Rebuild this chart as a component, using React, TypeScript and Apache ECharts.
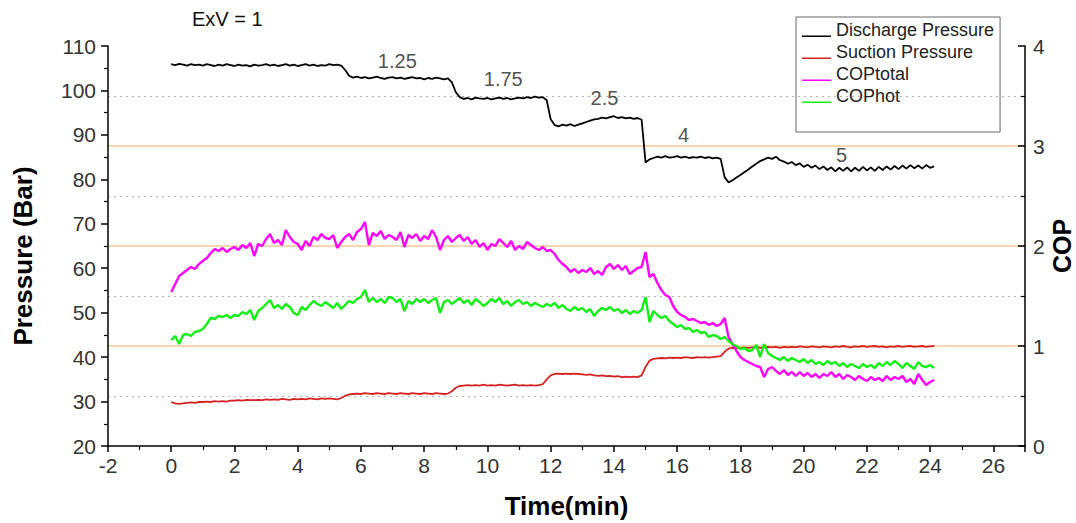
import React, { useEffect, useRef } from "react";
import * as echarts from "echarts";

const FONT = "'Liberation Sans', Arial, Helvetica, sans-serif";

// sampling step of the recorded time series (minutes)
const STEP = 0.125;

const seriesNames = ["Discharge Pressure", "Suction Pressure", "COPtotal", "COPhot"];
const seriesColors = ["#000000", "#d42222", "#ff00ff", "#11ee11"];

// Discharge pressure (bar), one row per minute
const discharge = [
  105.9, 105.7, 106.0, 105.8, 105.6, 105.9, 105.7, 105.8,
  105.6, 105.9, 105.7, 105.5, 105.8, 105.6, 105.9, 105.7,
  105.5, 105.8, 105.6, 105.7, 105.4, 105.8, 105.6, 105.7,
  105.9, 105.6, 105.8, 105.5, 105.7, 105.9, 105.6, 105.8,
  105.5, 105.7, 105.9, 105.6, 105.8, 105.5, 105.7, 105.6,
  105.9, 105.7, 105.8, 105.6, 104.6, 103.3, 102.9, 103.1,
  102.8, 103.0, 102.7, 102.9, 103.1, 102.8, 102.6, 102.9,
  103.0, 102.7, 102.9, 102.6, 102.8, 103.0, 102.7, 102.8,
  102.5, 102.8, 102.6, 102.9, 102.7, 102.5, 102.7, 101.8,
  99.6, 98.5, 98.1, 98.3, 98.0, 98.4, 98.2, 98.1,
  98.3, 98.0, 98.2, 98.4, 98.1, 98.3, 98.0, 98.2,
  98.4, 98.2, 98.5, 98.3, 98.6, 98.4, 98.5, 97.8,
  93.5, 92.2, 91.9, 92.3, 92.1, 92.4, 92.0, 92.3,
  92.6, 92.9, 93.2, 93.5, 93.6, 93.9, 93.7, 94.0,
  94.2, 93.8, 94.0, 93.7, 93.9, 93.6, 93.8, 93.4,
  83.8, 84.5, 84.8, 85.1, 84.9, 85.2, 84.9, 85.0,
  85.2, 84.9, 85.1, 84.8, 85.0, 84.9, 85.1, 84.8,
  85.0, 84.7, 84.9, 84.6, 80.5, 79.3, 79.8, 80.4,
  81.0, 81.6, 82.2, 82.9, 83.5, 84.1, 84.5, 84.9,
  84.6, 85.1, 84.3, 84.0, 83.5, 83.9, 83.2, 83.6,
  82.8, 83.3, 82.6, 83.1, 82.3, 82.9, 82.1, 82.7,
  81.8, 82.6, 81.9, 82.7, 81.8, 82.6, 81.9, 82.8,
  82.0, 82.7, 81.9, 82.8, 82.1, 82.9, 82.2, 83.0,
  82.3, 83.1, 82.4, 83.2, 82.5, 83.1, 82.4, 83.2,
  82.6, 82.9,
];

// Suction pressure (bar)
const suction = [
  29.9, 29.6, 29.5, 29.6, 29.7, 29.8, 29.7, 29.9,
  29.9, 30.0, 29.9, 30.1, 30.0, 30.1, 30.0, 30.2,
  30.2, 30.3, 30.2, 30.4, 30.3, 30.3, 30.4, 30.3,
  30.5, 30.4, 30.5, 30.4, 30.6, 30.5, 30.4, 30.6,
  30.5, 30.6, 30.5, 30.7, 30.6, 30.5, 30.7, 30.6,
  30.7, 30.6, 30.5, 30.8, 31.3, 31.6, 31.7, 31.8,
  31.7, 31.9, 31.8, 31.7, 31.9, 31.8, 31.7, 31.9,
  31.8, 31.7, 31.9, 31.8, 31.7, 31.9, 31.8, 31.7,
  31.9, 31.8, 31.7, 31.9, 31.8, 31.7, 31.8, 32.3,
  33.1, 33.5, 33.6, 33.7, 33.6, 33.7, 33.6, 33.8,
  33.6, 33.7, 33.6, 33.8, 33.7, 33.6, 33.7, 33.8,
  33.6, 33.7, 33.6, 33.7, 33.6, 33.7, 33.9, 35.0,
  35.9, 36.2, 36.3, 36.2, 36.3, 36.2, 36.3, 36.2,
  36.1, 36.0, 36.1, 35.9, 35.8, 35.9, 35.7, 35.8,
  35.6, 35.7, 35.5, 35.6, 35.5, 35.6, 35.5, 35.9,
  37.8, 39.2, 39.6, 39.7, 39.8, 39.7, 39.9, 39.8,
  39.9, 39.8, 40.0, 39.9, 39.8, 40.0, 39.9, 40.0,
  39.9, 40.0, 40.1, 40.2, 41.2, 41.9, 42.1, 42.0,
  42.1, 42.2, 42.1, 42.2, 42.3, 42.1, 42.2, 42.3,
  42.2, 42.3, 42.1, 42.3, 42.2, 42.3, 42.2, 42.4,
  42.3, 42.2, 42.4, 42.3, 42.2, 42.4, 42.3, 42.2,
  42.4, 42.3, 42.5, 42.3, 42.2, 42.4, 42.3, 42.5,
  42.3, 42.4, 42.5, 42.3, 42.4, 42.2, 42.4, 42.3,
  42.5, 42.3, 42.4, 42.5, 42.3, 42.4, 42.5, 42.3,
  42.4, 42.5,
];

// COP total
const copTotal = [
  1.54, 1.62, 1.70, 1.73, 1.76, 1.79, 1.77, 1.82,
  1.85, 1.88, 1.93, 1.97, 1.95, 1.98, 1.94, 1.97,
  1.99, 1.96, 2.01, 1.98, 2.03, 1.90, 2.02, 2.00,
  2.07, 2.12, 2.03, 2.06, 2.01, 2.16, 2.09, 2.04,
  2.02, 1.96, 2.05, 2.00, 2.09, 2.06, 2.12, 2.08,
  2.07, 2.11, 1.98, 2.04, 2.09, 2.12, 2.06, 2.14,
  2.17, 2.24, 2.01, 2.13, 2.10, 2.15, 2.07, 2.11,
  2.09, 2.06, 2.14, 1.99, 2.11, 2.08, 2.12, 2.05,
  2.10, 2.07, 2.16, 2.09, 1.96, 2.06, 2.10, 2.04,
  2.08, 2.11, 2.05, 2.09, 2.02, 2.06, 1.99, 2.03,
  1.96, 2.02, 2.00, 2.07, 2.03, 1.99, 2.05, 1.96,
  2.00, 1.97, 2.04, 2.01, 1.98, 1.96, 1.99, 1.95,
  1.96, 1.92, 1.86, 1.82, 1.79, 1.74, 1.77, 1.73,
  1.76, 1.74, 1.78, 1.72, 1.75, 1.71, 1.79, 1.82,
  1.77, 1.81, 1.76, 1.80, 1.72, 1.75, 1.78, 1.79,
  1.94, 1.69, 1.72, 1.63, 1.56, 1.51, 1.49, 1.40,
  1.34, 1.31, 1.29, 1.26, 1.27, 1.25, 1.23, 1.24,
  1.21, 1.23, 1.20, 1.22, 1.28, 1.09, 1.02, 0.95,
  0.89, 0.86, 0.84, 0.82, 0.80, 0.79, 0.69, 0.77,
  0.79, 0.75, 0.72, 0.76, 0.71, 0.74, 0.70, 0.74,
  0.70, 0.73, 0.69, 0.72, 0.68, 0.72, 0.70, 0.74,
  0.69, 0.72, 0.67, 0.71, 0.69, 0.66, 0.70, 0.67,
  0.65, 0.69, 0.66, 0.68, 0.65, 0.70, 0.66, 0.69,
  0.67, 0.70, 0.64, 0.67, 0.62, 0.72, 0.66, 0.61,
  0.64, 0.66,
];

// COP hot
const copHot = [
  1.06, 1.10, 1.02, 1.11, 1.12, 1.10, 1.14, 1.15,
  1.17, 1.22, 1.28, 1.27, 1.30, 1.29, 1.31, 1.28,
  1.31, 1.30, 1.34, 1.32, 1.36, 1.26, 1.35, 1.38,
  1.42, 1.46, 1.38, 1.41, 1.37, 1.42, 1.39, 1.33,
  1.31, 1.39, 1.36, 1.41, 1.45, 1.42, 1.40, 1.44,
  1.41, 1.38, 1.43, 1.37, 1.41, 1.45, 1.43, 1.47,
  1.49, 1.56, 1.44, 1.48, 1.44, 1.47, 1.43, 1.49,
  1.48, 1.44, 1.47, 1.35, 1.45, 1.42, 1.47, 1.44,
  1.47, 1.43, 1.46, 1.48, 1.33, 1.44, 1.46, 1.42,
  1.45, 1.48, 1.43, 1.46, 1.41, 1.47, 1.44, 1.40,
  1.43, 1.47, 1.44, 1.48, 1.42, 1.45, 1.40, 1.44,
  1.46, 1.42, 1.44, 1.40, 1.43, 1.41, 1.39, 1.42,
  1.40, 1.43, 1.38, 1.41, 1.37, 1.35, 1.39, 1.36,
  1.38, 1.34, 1.37, 1.30, 1.35, 1.38, 1.36, 1.39,
  1.35, 1.37, 1.33, 1.36, 1.32, 1.35, 1.33, 1.36,
  1.49, 1.24, 1.35, 1.31, 1.28, 1.30, 1.25, 1.22,
  1.19, 1.21, 1.17, 1.18, 1.14, 1.16, 1.13, 1.14,
  1.09, 1.11, 1.10, 1.07, 1.09, 1.05, 1.02, 1.00,
  0.97, 0.98, 0.95, 0.96, 1.01, 0.89, 1.02, 0.93,
  0.90, 0.88, 0.86, 0.89, 0.85, 0.88, 0.86, 0.84,
  0.87, 0.83, 0.86, 0.82, 0.84, 0.81, 0.85, 0.82,
  0.84, 0.80, 0.83, 0.79, 0.82, 0.80, 0.78, 0.82,
  0.79, 0.81, 0.78, 0.83, 0.80, 0.84, 0.81, 0.85,
  0.82, 0.78, 0.83, 0.80, 0.77, 0.84, 0.80, 0.79,
  0.81, 0.78,
];

// step annotations (ExV opening values)
const annotLabels = ["1.25", "1.75", "2.5", "4", "5"];
const annotTimes = [7.15, 10.5, 13.7, 16.2, 21.2];
const annotPressures = [106.6, 102.6, 98.4, 90.0, 85.4];

const time = discharge.map((_, i) => i * STEP);

function pairs(values: number[]) {
  return values.map((v, i) => [time[i], v]);
}

export default function App() {
  const ref = useRef<HTMLDivElement>(null);

  useEffect(() => {
    if (!ref.current) return;
    const chart = echarts.init(ref.current, null, { renderer: "svg" });

    const legendIcon =
      "path://M0,0 L0.2,0 L0.2,0.2 Z M0,12.5 L29,12.5 L29,14 L0,14 Z";

    const tickLabel = { fontSize: 21, color: "#333", fontFamily: FONT };

    const option: any = {
      animation: false,
      backgroundColor: "#ffffff",
      textStyle: { fontFamily: FONT },
      title: {
        text: "ExV = 1",
        left: 192,
        top: 9,
        padding: 0,
        textStyle: { fontSize: 20, fontWeight: "normal", color: "#111", fontFamily: FONT },
      },
      legend: {
        orient: "vertical",
        left: 796,
        top: 17,
        padding: [4, 6, 27, 6],
        itemGap: 4,
        itemWidth: 29,
        itemHeight: 14,
        borderColor: "#666",
        borderWidth: 1,
        icon: legendIcon,
        itemStyle: { borderWidth: 0 },
        textStyle: { fontSize: 18, color: "#222", fontFamily: FONT, lineHeight: 18 },
        data: seriesNames.map((n, i) => ({ name: n, itemStyle: { color: seriesColors[i] } })),
      },
      grid: {
        left: 108,
        right: 51,
        top: 46,
        bottom: 77,
        containLabel: false,
        outerBoundsMode: "none",
      },
      xAxis: {
        type: "value",
        min: -2,
        max: 27,
        interval: 2,
        name: "Time(min)",
        nameLocation: "middle",
        nameGap: 47,
        nameTextStyle: { fontSize: 26, fontWeight: "bold", color: "#000", fontFamily: FONT },
        axisLine: { show: true, onZero: false, lineStyle: { color: "#000", width: 1.5 } },
        axisTick: { show: true, inside: false, length: 6, lineStyle: { color: "#000", width: 1.5 } },
        minorTick: { show: true, splitNumber: 2, length: 4, lineStyle: { color: "#000", width: 1.2 } },
        axisLabel: { ...tickLabel, margin: 9, showMaxLabel: false },
        splitLine: { show: false },
      },
      yAxis: [
        {
          type: "value",
          position: "left",
          min: 20,
          max: 110,
          interval: 10,
          name: "Pressure (Bar)",
          nameLocation: "middle",
          nameRotate: 90,
          nameGap: 72,
          nameTextStyle: {
            fontSize: 26,
            fontWeight: "bold",
            color: "#000",
            fontFamily: FONT,
            padding: [0, 20, 0, 0],
          },
          axisLine: { show: true, onZero: false, lineStyle: { color: "#000", width: 1.5 } },
          axisTick: { show: true, inside: false, length: 7, lineStyle: { color: "#000", width: 1.5 } },
          minorTick: { show: true, splitNumber: 2, length: 4, lineStyle: { color: "#000", width: 1.2 } },
          axisLabel: { ...tickLabel, margin: 12 },
          splitLine: { show: false },
        },
        {
          type: "value",
          position: "right",
          min: 0,
          max: 4,
          interval: 1,
          name: "COP",
          nameLocation: "middle",
          nameRotate: 90,
          nameGap: 24,
          nameMoveOverlap: false,
          nameTextStyle: {
            fontSize: 25,
            lineHeight: 25,
            fontWeight: "bold",
            color: "#000",
            fontFamily: FONT,
          },
          axisLine: { show: true, onZero: false, lineStyle: { color: "#000", width: 1.5 } },
          axisTick: { show: true, inside: true, length: 7, lineStyle: { color: "#000", width: 1.5 } },
          minorTick: { show: true, splitNumber: 2, length: 4, lineStyle: { color: "#000", width: 1.2 } },
          axisLabel: { ...tickLabel, margin: 8 },
          splitLine: {
            show: true,
            showMinLine: false,
            showMaxLine: false,
            lineStyle: { color: "#f0c898", width: 1.5, type: "solid" },
          },
          minorSplitLine: {
            show: true,
            lineStyle: { color: "#b4b4b4", width: 1, type: [2, 4] },
          },
        },
      ],
      series: [
        {
          name: seriesNames[0],
          type: "line",
          yAxisIndex: 0,
          data: pairs(discharge),
          showSymbol: false,
          symbol: "none",
          lineStyle: { color: seriesColors[0], width: 1.8 },
          itemStyle: { color: seriesColors[0] },
          z: 3,
        },
        {
          name: seriesNames[1],
          type: "line",
          yAxisIndex: 0,
          data: pairs(suction),
          showSymbol: false,
          symbol: "none",
          lineStyle: { color: seriesColors[1], width: 1.8 },
          itemStyle: { color: seriesColors[1] },
          z: 3,
        },
        {
          name: seriesNames[2],
          type: "line",
          yAxisIndex: 1,
          data: pairs(copTotal),
          showSymbol: false,
          symbol: "none",
          lineStyle: { color: seriesColors[2], width: 2.4 },
          itemStyle: { color: seriesColors[2] },
          z: 3,
        },
        {
          name: seriesNames[3],
          type: "line",
          yAxisIndex: 1,
          data: pairs(copHot),
          showSymbol: false,
          symbol: "none",
          lineStyle: { color: seriesColors[3], width: 2.4 },
          itemStyle: { color: seriesColors[3] },
          z: 3,
        },
        {
          name: "ExV steps",
          type: "scatter",
          yAxisIndex: 0,
          silent: true,
          symbolSize: 1,
          itemStyle: { color: "transparent" },
          label: {
            show: true,
            position: "inside",
            fontSize: 20,
            color: "#222",
            fontFamily: FONT,
          },
          data: annotTimes.map((t, i) => ({
            value: [t, annotPressures[i]],
            label: { formatter: annotLabels[i] },
          })),
          z: 4,
        },
      ],
    };

    chart.setOption(option);
    return () => {
      chart.dispose();
    };
  }, []);

  return (
    <div
      ref={ref}
      style={{ position: "absolute", left: 0, top: 0, width: 1076, height: 523, background: "#fff" }}
    />
  );
}
